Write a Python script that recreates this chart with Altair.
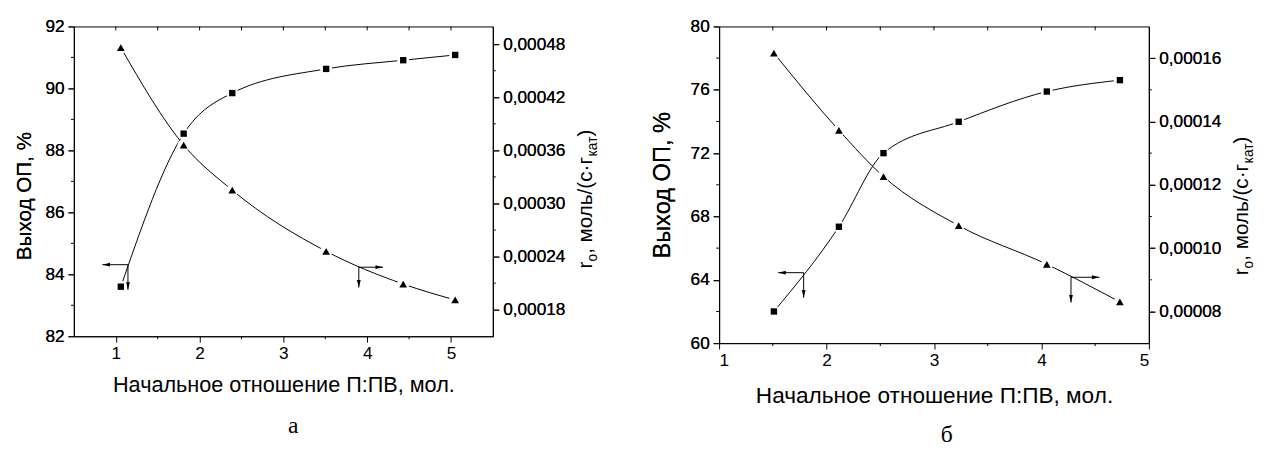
import altair as alt
import pandas as pd

# ---------------- data ----------------
# panel "а"
a_ratio = [1.06, 1.81, 2.39, 3.51, 4.43, 5.05]
a_yield = [83.6, 88.54, 89.85, 90.63, 90.91, 91.08]
a_rate = [0.000476, 0.000366, 0.000315, 0.000246, 0.000209, 0.000191]
# panel "б"
b_ratio = [1.51, 2.115, 2.53, 3.23, 4.05, 4.73]
b_yield = [62.0, 67.35, 72.0, 73.98, 75.89, 76.61]
b_rate = [0.0001616, 0.0001372, 0.0001226, 0.0001071, 0.0000949, 0.000083]

# axes
a_xdom = [0.5, 5.5]
a_xticks = [1, 2, 3, 4, 5]
a_xminor = [1.5, 2.5, 3.5, 4.5]
a_xtop = [1, 1.5, 2, 2.5, 3, 3.5, 4, 4.5, 5]
a_ydom = [82, 92]
a_yticks = [82, 84, 86, 88, 90, 92]
a_yminor = [83, 85, 87, 89, 91]
a_rdom = [0.00015, 0.0005]
a_rticks = [0.00018, 0.00024, 0.0003, 0.00036, 0.00042, 0.00048]
a_rminor = [0.00021, 0.00027, 0.00033, 0.00039, 0.00045]

b_xdom = [1, 5]
b_xticks = [1, 2, 3, 4, 5]
b_xminor = [1.5, 2.5, 3.5, 4.5]
b_xtop = [1.5, 2, 2.5, 3, 3.5, 4, 4.5]
b_ydom = [60, 80]
b_yticks = [60, 64, 68, 72, 76, 80]
b_yminor = [62, 66, 70, 74, 78]
b_rdom = [0.00007, 0.00017]
b_rticks = [0.00008, 0.0001, 0.00012, 0.00014, 0.00016]
b_rminor = [0.00009, 0.00011, 0.00013, 0.00015]

# arrows: junction (x, y), horizontal end x, vertical end y
a_arrow_left = {"jx": 1.145, "jy": 84.31, "ex": 0.84, "ey": 83.5}
a_arrow_right = {"jx": 3.9, "jy": 0.000228, "ex": 4.19, "ey": 0.000205}
b_arrow_left = {"jx": 1.787, "jy": 64.45, "ex": 1.55, "ey": 62.87}
b_arrow_right = {"jx": 4.275, "jy": 0.0000908, "ex": 4.54, "ey": 0.0000828}

X_TITLE = "Начальное отношение П:ПВ, мол."
Y_TITLE = "Выход ОП, %"

FONT = "Liberation Sans"
LABEL_SIZE = 17.5
TITLE_SIZE = 21
SUB_SIZE = 14

HEAD_LEFT = "M0,0L2,-0.5L2,0.5Z"
HEAD_RIGHT = "M0,0L-2,-0.5L-2,0.5Z"
HEAD_DOWN = "M0,0L-0.5,-2L0.5,-2Z"


def one():
    return pd.DataFrame({"k": [0]})


def panel(ratio, yld, rate, xdom, xticks, xminor, xtop, ydom, yticks, yminor,
          rdom, rticks, rminor, arrL, arrR, W, H, label, lay):
    df = pd.DataFrame({"x": ratio, "y": yld, "r": rate})

    X = alt.X("x:Q", scale=alt.Scale(domain=xdom, nice=False, zero=False),
              axis=alt.Axis(values=xticks, title=X_TITLE, format="d",
                            tickSize=6, labelPadding=3, titlePadding=lay["xpad"],
                            titleFontSize=lay["xsize"]))
    yaxis = dict(orient="left", values=yticks, title=Y_TITLE, format="d",
                 tickSize=6, labelPadding=4, titlePadding=lay["ypad"],
                 titleFontSize=lay["ysize"])
    if "ytitle_y" in lay:
        yaxis["titleY"] = lay["ytitle_y"]
    Y = alt.Y("y:Q", scale=alt.Scale(domain=ydom, nice=False, zero=False),
              axis=alt.Axis(**yaxis))
    R = alt.Y("r:Q", scale=alt.Scale(domain=rdom, nice=False, zero=False),
              axis=alt.Axis(orient="right", values=rticks, title="",
                            labelExpr="replace(format(datum.value, '.5f'), '.', ',')",
                            tickSize=6, labelPadding=4))

    halo = dict(shape="circle", filled=True, color="white", size=150, opacity=1)

    # ----- left-axis (yield, squares) layer -----
    l_line = alt.Chart(df).mark_line(interpolate="monotone", color="black",
                                     strokeWidth=1).encode(x=X, y=Y)
    l_halo = alt.Chart(df).mark_point(**halo).encode(x=X, y=Y)
    l_pts = alt.Chart(df).mark_point(shape="square", filled=True, color="black",
                                     size=42, opacity=1).encode(x=X, y=Y)
    aL = pd.DataFrame({"x": [arrL["jx"]], "x2": [arrL["ex"]],
                       "y": [arrL["jy"]], "y2": [arrL["ey"]]})
    aLh = pd.DataFrame({"x": [arrL["ex"]], "y": [arrL["jy"]]})
    aLv = pd.DataFrame({"x": [arrL["jx"]], "y": [arrL["ey"]]})
    l_ah = alt.Chart(aL).mark_rule(color="black", strokeWidth=1).encode(
        x=X, x2=alt.X2("x2:Q"), y=Y)
    l_av = alt.Chart(aL).mark_rule(color="black", strokeWidth=1).encode(
        x=X, y=Y, y2=alt.Y2("y2:Q"))
    l_hh = alt.Chart(aLh).mark_point(shape=HEAD_LEFT, filled=True, color="black",
                                     size=60, opacity=1).encode(x=X, y=Y)
    l_hv = alt.Chart(aLv).mark_point(shape=HEAD_DOWN, filled=True, color="black",
                                     size=60, opacity=1).encode(x=X, y=Y)
    l_minor = alt.Chart(pd.DataFrame({"y": yminor})).mark_rule(
        color="black", strokeWidth=1).encode(y=Y, x=alt.value(0), x2=alt.value(-3))
    x_minor = alt.Chart(pd.DataFrame({"x": xminor})).mark_rule(
        color="black", strokeWidth=1).encode(x=X, y=alt.value(H), y2=alt.value(H + 3))
    x_top = alt.Chart(pd.DataFrame({"x": xtop})).mark_rule(
        color="black", strokeWidth=1).encode(x=X, y=alt.value(0), y2=alt.value(4))

    left = alt.layer(l_line, x_minor, x_top, l_minor, l_ah, l_av, l_hh, l_hv)

    # ----- right-axis (rate, triangles) layer -----
    r_line = alt.Chart(df).mark_line(interpolate="monotone", color="black",
                                     strokeWidth=1).encode(x=X, y=R)
    r_halo = alt.Chart(df).mark_point(**halo).encode(x=X, y=R)
    r_pts = alt.Chart(df).mark_point(shape="triangle-up", filled=True, color="black",
                                     size=62, opacity=1).encode(x=X, y=R)
    aR = pd.DataFrame({"x": [arrR["jx"]], "x2": [arrR["ex"]],
                       "r": [arrR["jy"]], "r2": [arrR["ey"]]})
    aRh = pd.DataFrame({"x": [arrR["ex"]], "r": [arrR["jy"]]})
    aRv = pd.DataFrame({"x": [arrR["jx"]], "r": [arrR["ey"]]})
    r_ah = alt.Chart(aR).mark_rule(color="black", strokeWidth=1).encode(
        x=X, x2=alt.X2("x2:Q"), y=R)
    r_av = alt.Chart(aR).mark_rule(color="black", strokeWidth=1).encode(
        x=X, y=R, y2=alt.Y2("r2:Q"))
    r_hh = alt.Chart(aRh).mark_point(shape=HEAD_RIGHT, filled=True, color="black",
                                     size=60, opacity=1).encode(x=X, y=R)
    r_hv = alt.Chart(aRv).mark_point(shape=HEAD_DOWN, filled=True, color="black",
                                     size=60, opacity=1).encode(x=X, y=R)
    r_minor = alt.Chart(pd.DataFrame({"r": rminor})).mark_rule(
        color="black", strokeWidth=1).encode(y=R, x=alt.value(W), x2=alt.value(W + 3))

    l_marks = alt.layer(l_halo, l_pts)
    r_marks = alt.layer(r_halo, r_pts)

    right = alt.layer(r_line, r_minor, r_ah, r_av, r_hh, r_hv)

    # right-axis title built from pieces (with subscripts), rotated
    tx = W + 101
    ty = H - 69
    w_r = 0.333 * TITLE_SIZE
    w_o = 0.556 * SUB_SIZE
    w_main = 4.713 * TITLE_SIZE
    w_kat = 1.452 * SUB_SIZE
    pieces = [
        ("r", TITLE_SIZE, 0, 0),
        ("o", SUB_SIZE, w_r, 5),
        (", моль/(с·г", TITLE_SIZE, w_r + w_o, 0),
        ("кат", SUB_SIZE, w_r + w_o + w_main, 5),
        (")", TITLE_SIZE, w_r + w_o + w_main + w_kat, 0),
    ]
    title_layers = [
        alt.Chart(one()).mark_text(text=t, font=FONT, fontSize=s, angle=270,
                                   align="left", baseline="alphabetic",
                                   dx=dx, dy=dy, color="black").encode(
            x=alt.value(tx), y=alt.value(ty))
        for (t, s, dx, dy) in pieces
    ]
    panel_label = alt.Chart(one()).mark_text(
        text=label, font="Liberation Serif", fontSize=24, color="black",
        baseline="middle", align="center").encode(
        x=alt.value(W / 2 + lay["lab_dx"]), y=alt.value(H + lay["lab_dy"]))

    base = alt.layer(left, right).resolve_scale(y="independent")
    marks = alt.layer(l_marks, r_marks).resolve_scale(y="independent")
    ch = alt.layer(base, marks, *title_layers, panel_label).resolve_scale(
        y="independent").properties(width=W, height=H)
    return ch


pa = panel(a_ratio, a_yield, a_rate, a_xdom, a_xticks, a_xminor, a_xtop,
           a_ydom, a_yticks, a_yminor, a_rdom, a_rticks, a_rminor,
           a_arrow_left, a_arrow_right, 426, 315, "а",
           dict(xpad=13, xsize=22, ypad=11, ysize=21, ytitle_y=172,
                lab_dx=10, lab_dy=91))
pb = panel(b_ratio, b_yield, b_rate, b_xdom, b_xticks, b_xminor, b_xtop,
           b_ydom, b_yticks, b_yminor, b_rdom, b_rticks, b_rminor,
           b_arrow_left, b_arrow_right, 437, 322, "б",
           dict(xpad=16, xsize=23, ypad=16, ysize=24,
                lab_dx=13, lab_dy=94))

chart = alt.hconcat(pa, pb, spacing=50).configure(
    background="white"
).configure_view(
    stroke="black", strokeWidth=1
).configure_axis(
    labelFont=FONT, titleFont=FONT, labelFontSize=LABEL_SIZE, titleFontSize=TITLE_SIZE,
    titleFontWeight="normal", labelColor="black", titleColor="black",
    domainColor="black", tickColor="black", grid=False, domainWidth=1, tickWidth=1
)

chart.save("out.html", embed_options={"renderer": "svg", "actions": False})
